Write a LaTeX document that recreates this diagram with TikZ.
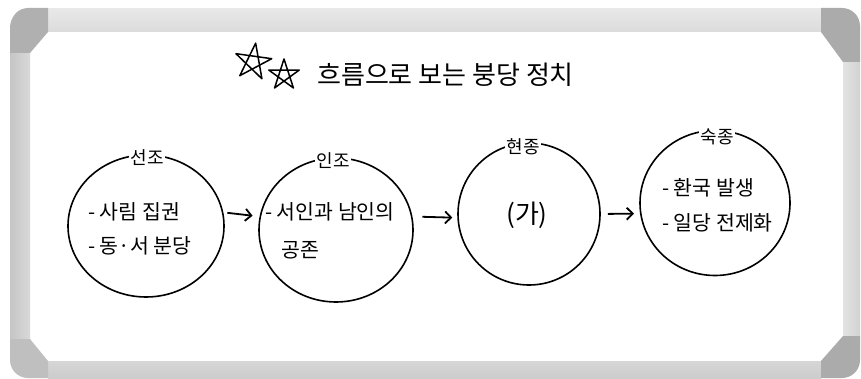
\documentclass[tikz,border=0pt]{standalone}
\usepackage{fontspec}
\newfontfamily\kr{Noto Sans CJK KR}
\usetikzlibrary{shapes.geometric,arrows.meta}
\begin{document}
\begin{tikzpicture}[x=1pt,y=-1pt,
  bubble/.style={ellipse,draw=black,line width=1.6pt,inner sep=0pt},
  lbl/.style={fill=white,inner sep=1pt,font=\kr\fontsize{18}{18}\selectfont},
  body/.style={anchor=west,inner sep=0pt,font=\kr\fontsize{20.5}{20.5}\selectfont},
  flow/.style={-{Straight Barb[length=6pt,width=12pt,line width=1.8pt]},line width=1.8pt},
  starline/.style={line width=1.5pt,line join=round}]
\fill[white] (0,0) rectangle (861,379);
\useasboundingbox (0,0) rectangle (861,379);
% frame bars
\shade[top color=gray!18,bottom color=gray!28] (48,9) rectangle (821,32);
\shade[left color=gray!45,right color=gray!30] (10,53) rectangle (30,339);
\shade[left color=gray!22,right color=gray!35] (843,62) rectangle (860,336);
\shade[top color=gray!32,bottom color=gray!40] (48,361) rectangle (821,378);
% corners
\fill[gray!62] (10,53) -- (10,28) to[out=90,in=180] (28,8) -- (48,8) -- (48,32) -- (30,53) -- cycle;
\fill[gray!90!black!60] (821,8) -- (842,8) to[out=0,in=90] (860,26) -- (860,62) -- (843,62) -- (821,32) -- cycle;
\fill[gray!50] (10,339) -- (30,339) -- (48,361) -- (48,378) -- (28,378) to[out=180,in=-90] (10,360) -- cycle;
\fill[gray!90!black!60] (843,336) -- (860,336) -- (860,360) to[out=-90,in=0] (842,378) -- (821,378) -- (821,361) -- cycle;
% title
\draw[starline,shift={(253,62)},rotate=-8] (-90:19) -- (54:19) -- (198:19) -- (-18:19) -- (126:19) -- cycle;
\draw[starline,shift={(284,75)}] (-90:16) -- (54:16) -- (198:16) -- (-18:16) -- (126:16) -- cycle;
\node[anchor=west,inner sep=0pt,font=\kr\fontsize{26}{26}\selectfont] (title) at (317,75) {흐름으로 보는 붕당 정치};
% circles
\node[bubble,minimum width=156pt,minimum height=142pt] (c1) at (146,226) {};
\node[bubble,minimum width=154pt,minimum height=144pt] (c2) at (336,230) {};
\node[bubble,minimum width=142pt,minimum height=142pt] (c3) at (529,214) {};
\node[bubble,minimum width=150pt,minimum height=145pt] (c4) at (715,203) {};
% labels
\node[lbl] (l1) at (147,158) {선조};
\node[lbl] (l2) at (333,161) {인조};
\node[lbl] (l3) at (523,147) {현종};
\node[lbl] (l4) at (717,137) {숙종};
% bodies
\node[body] (t1a) at (88,212) {- 사림 집권};
\node[body] (t1b) at (88,246) {- 동·서 분당};
\node[body] (t2a) at (265,212) {- 서인과 남인의};
\node[body] (t2b) at (281,250) {공존};
\node[inner sep=0pt,font=\kr\fontsize{26}{26}\selectfont] (t3) at (527,215) {(가)};
\node[body] (t4a) at (662,188) {- 환국 발생};
\node[body] (t4b) at (662,223) {- 일당 전제화};
% arrows
\draw[flow,shorten <=4pt,shorten >=7pt] (c1.10) -- (c2.170);
\draw[flow,shorten <=10pt,shorten >=5pt] (c2.10) -- (c3.183);
\draw[flow,shorten <=7pt,shorten >=6pt] (c3.east) -- (c4.188);
\end{tikzpicture}
\end{document}
